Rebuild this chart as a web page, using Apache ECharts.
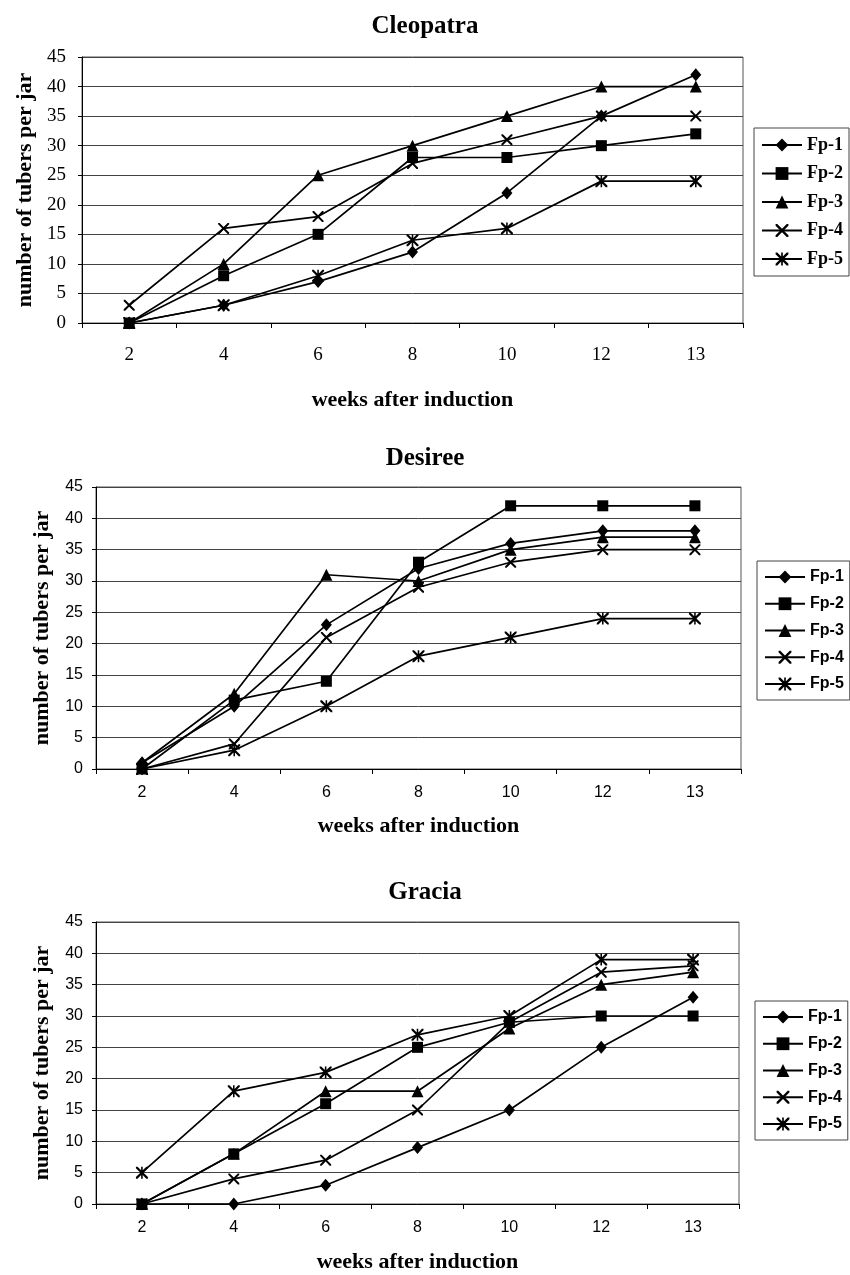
<!DOCTYPE html>
<html>
<head>
<meta charset="utf-8">
<title>Tubers per jar</title>
<script src="https://cdn.jsdelivr.net/npm/echarts@6.0.0/dist/echarts.min.js"></script>
<style>
    html, body { margin: 0; padding: 0; background: #fff; }
    #chart { width: 850px; height: 1275px; }
</style>
</head>
<body>
<div id="chart"></div>
<script>
const weeks = ['2', '4', '6', '8', '10', '12', '13'];
const lineNames = ['Fp-1', 'Fp-2', 'Fp-3', 'Fp-4', 'Fp-5'];

const cleopatraFp1 = [0, 3, 7, 12, 22, 35, 42];
const cleopatraFp2 = [0, 8, 15, 28, 28, 30, 32];
const cleopatraFp3 = [0, 10, 25, 30, 35, 40, 40];
const cleopatraFp4 = [3, 16, 18, 27, 31, 35, 35];
const cleopatraFp5 = [0, 3, 8, 14, 16, 24, 24];

const desireeFp1 = [1, 10, 23, 32, 36, 38, 38];
const desireeFp2 = [0, 11, 14, 33, 42, 42, 42];
const desireeFp3 = [1, 12, 31, 30, 35, 37, 37];
const desireeFp4 = [0, 4, 21, 29, 33, 35, 35];
const desireeFp5 = [0, 3, 10, 18, 21, 24, 24];

const graciaFp1 = [0, 0, 3, 9, 15, 25, 33];
const graciaFp2 = [0, 8, 16, 25, 29, 30, 30];
const graciaFp3 = [0, 8, 18, 18, 28, 35, 37];
const graciaFp4 = [0, 4, 7, 15, 29, 37, 38];
const graciaFp5 = [5, 18, 21, 27, 30, 39, 39];

// excel-like markers: diamond, square, triangle, x, star
const X_PATH = 'M0,0L1.3,0L5,3.7L8.7,0L10,0L10,1.3L6.3,5L10,8.7L10,10L8.7,10L5,6.3L1.3,10L0,10L0,8.7L3.7,5L0,1.3Z';
const STAR_PATH = X_PATH + 'M4.35,0L5.65,0L5.65,10L4.35,10Z';
const markers = [
    {symbol: 'diamond', size: [11, 13]},
    {symbol: 'rect', size: 11},
    {symbol: 'triangle', size: 12},
    {symbol: 'path://' + X_PATH, size: 11},
    {symbol: 'path://' + STAR_PATH, size: 12},
];

const SERIF = 'Liberation Serif';
const SANS = 'Liberation Sans';

const panels = [
    {
        title: 'Cleopatra',
        values: [cleopatraFp1, cleopatraFp2, cleopatraFp3, cleopatraFp4, cleopatraFp5],
        tickFont: SERIF, tickSize: 19, legendFont: SERIF, legendSize: 18,
        grid: {left: 82, top: 57, width: 661, height: 266},
        titleTop: 14, xLabelMargin: 23, yLabelMargin: 16, xNameGap: 66, yNameGap: 46,
        legend: {left: 754, top: 128, gap: 10.5, padding: [8, 6, 8, 7]},
    },
    {
        title: 'Desiree',
        values: [desireeFp1, desireeFp2, desireeFp3, desireeFp4, desireeFp5],
        tickFont: SANS, tickSize: 16, legendFont: SANS, legendSize: 16,
        grid: {left: 96, top: 487, width: 645, height: 282},
        titleTop: 446, xLabelMargin: 16, yLabelMargin: 13, xNameGap: 46, yNameGap: 43,
        legend: {left: 757, top: 561, gap: 10.75, padding: [8, 6, 8, 7]},
    },
    {
        title: 'Gracia',
        values: [graciaFp1, graciaFp2, graciaFp3, graciaFp4, graciaFp5],
        tickFont: SANS, tickSize: 16, legendFont: SANS, legendSize: 16,
        grid: {left: 96, top: 922, width: 643, height: 282},
        titleTop: 880, xLabelMargin: 16, yLabelMargin: 13, xNameGap: 47, yNameGap: 43,
        legend: {left: 755, top: 1001, gap: 10.75, padding: [8, 6, 8, 7]},
    },
];

function buildSeries(panel, index) {
    return panel.values.map((values, k) => ({
        name: lineNames[k],
        type: 'line',
        xAxisIndex: index,
        yAxisIndex: index,
        data: values,
        symbol: markers[k].symbol,
        symbolSize: markers[k].size,
        lineStyle: {color: '#000', width: 1.7},
        itemStyle: {color: '#000'},
        emphasis: {disabled: true},
        animation: false,
    }))
}

function buildOption() {
    const axisName = {fontFamily: SERIF, fontWeight: 'bold', fontSize: 22, color: '#000'};
    return {
        backgroundColor: '#fff',
        animation: false,
        title: panels.map(p => ({
            text: p.title,
            left: 'center',
            top: p.titleTop,
            padding: 0,
            textStyle: {fontFamily: SERIF, fontWeight: 'bold', fontSize: 25, color: '#000'},
        })),
        grid: panels.map(p => ({
            ...p.grid,
            show: true,
            borderColor: '#555',
            borderWidth: 1,
        })),
        legend: panels.map(p => ({
            orient: 'vertical',
            left: p.legend.left,
            top: p.legend.top,
            padding: p.legend.padding,
            itemGap: p.legend.gap,
            itemWidth: 40,
            itemHeight: 16,
            selectedMode: false,
            borderColor: '#444',
            borderWidth: 1,
            data: lineNames,
            textStyle: {fontFamily: p.legendFont, fontWeight: 'bold', fontSize: p.legendSize, color: '#000'},
        })),
        xAxis: panels.map((p, i) => ({
            type: 'category',
            gridIndex: i,
            data: weeks,
            boundaryGap: true,
            axisLine: {lineStyle: {color: '#000', width: 1}},
            axisTick: {show: true, length: 5, lineStyle: {color: '#000'}},
            axisLabel: {fontFamily: p.tickFont, fontSize: p.tickSize, color: '#000', margin: p.xLabelMargin},
            name: 'weeks after induction',
            nameLocation: 'middle',
            nameGap: p.xNameGap,
            nameTextStyle: axisName,
        })),
        yAxis: panels.map((p, i) => ({
            type: 'value',
            gridIndex: i,
            min: 0,
            max: 45,
            interval: 5,
            axisLine: {show: true, lineStyle: {color: '#000', width: 1}},
            axisTick: {show: true, length: 4, lineStyle: {color: '#000'}},
            axisLabel: {fontFamily: p.tickFont, fontSize: p.tickSize, color: '#000', margin: p.yLabelMargin},
            splitLine: {lineStyle: {color: '#444', width: 1}},
            name: 'number of tubers per jar',
            nameLocation: 'middle',
            nameGap: p.yNameGap,
            nameRotate: 90,
            nameTextStyle: axisName,
        })),
        series: panels.flatMap(buildSeries),
    }
}

function init() {
    const chart = echarts.init(document.getElementById('chart'), null, {renderer: 'canvas'});
    chart.setOption(buildOption());
}

document.addEventListener('DOMContentLoaded', init);
</script>
</body>
</html>
